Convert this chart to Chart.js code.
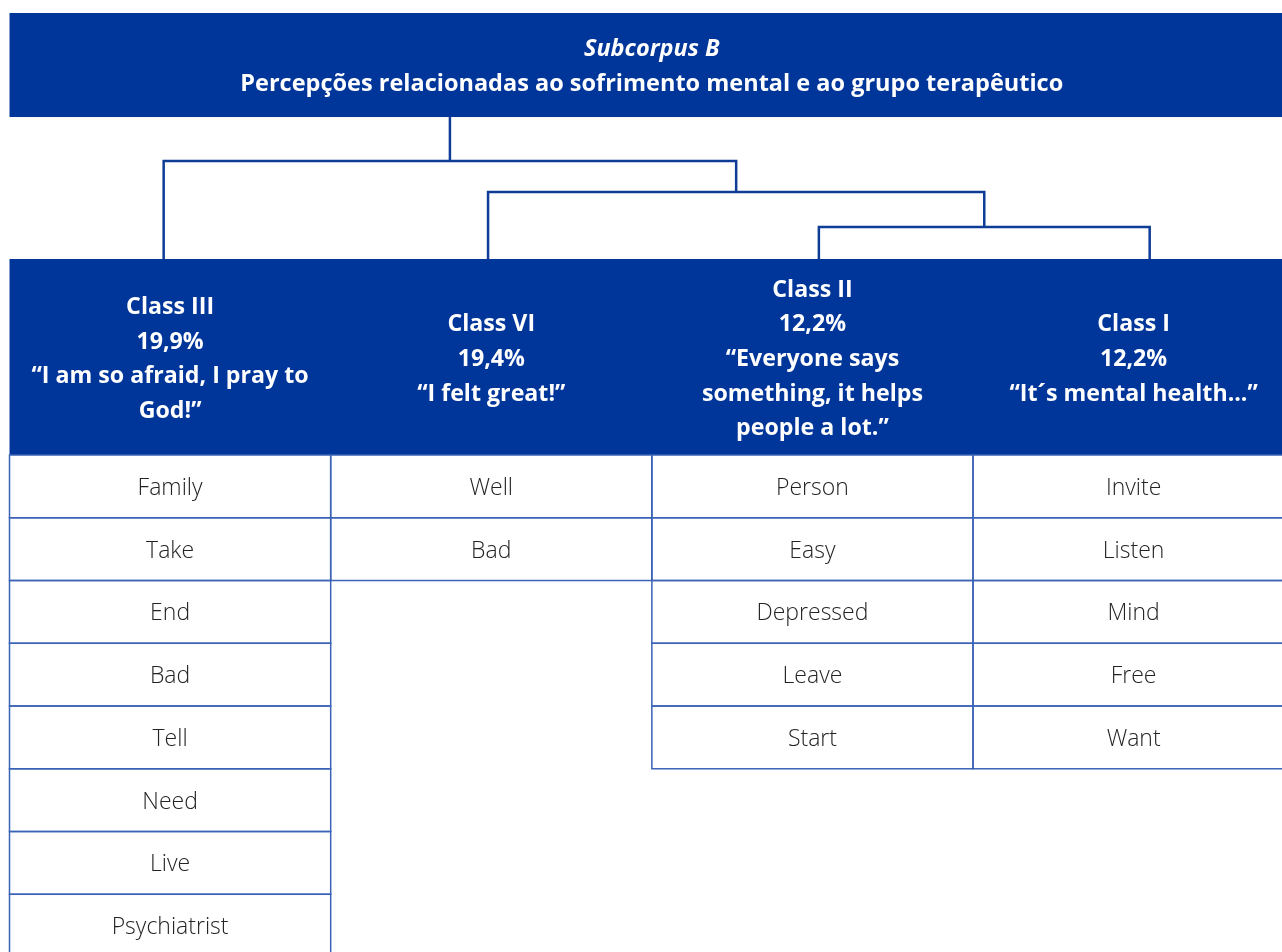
<!DOCTYPE html>
<html>
<head>
<meta charset="utf-8">
<script src="https://cdn.jsdelivr.net/npm/chart.js@4.4.1/dist/chart.umd.min.js"></script>
<style>
  html, body { margin: 0; padding: 0; background: #ffffff; }
  #wrap { position: relative; width: 1282px; height: 952px; }
</style>
</head>
<body>
<div id="wrap"><canvas id="chart"></canvas></div>
<script>
// ---- data ----
const titleLines = ['Subcorpus B', 'Percepções relacionadas ao sofrimento mental e ao grupo terapêutico'];
const classNames = ['Class III', 'Class VI', 'Class II', 'Class I'];
const classShares = ['19,9%', '19,4%', '12,2%', '12,2%'];
const classQuotes = [
    ['“I am so afraid, I pray to', 'God!”'],
    ['“I felt great!”'],
    ['“Everyone says', 'something, it helps', 'people a lot.”'],
    ['“It´s mental health...”']
];
const classWords = [
    ['Family', 'Take', 'End', 'Bad', 'Tell', 'Need', 'Live', 'Psychiatrist'],
    ['Well', 'Bad'],
    ['Person', 'Easy', 'Depressed', 'Leave', 'Start'],
    ['Invite', 'Listen', 'Mind', 'Free', 'Want']
];
// dendrogram: merges of clusters (leaf index or earlier merge 'm0', 'm1'), with height level
const merges = [
    { a: 2, b: 3, level: 1 },
    { a: 1, b: 'm0', level: 2 },
    { a: 0, b: 'm1', level: 3 }
];

// ---- layout (in scale units: x = column, y = table rows, down is positive) ----
const BLUE = '#00359a';
const LINE_BLUE = '#0f3c97';
const CELL_BORDER = '#3b63b6';
const leafX = [0.48, 1.49, 2.52, 3.55];
const headerTop = -3.124;
const bannerTop = -7.044, bannerBottom = -5.386;
const levelY = [headerTop, -3.633, -4.191, -4.685];
const X_MAX = 3.962, Y_MIN = -7.251, Y_MAX = 7.92;

// build dendrogram line datasets from merges
const nodeX = {};
const nodeY = {};
classNames.forEach((c, i) => { nodeX[i] = leafX[i]; nodeY[i] = headerTop; });
const datasets = [];
merges.forEach((m, i) => {
    const y = levelY[m.level];
    datasets.push({
        data: [
            { x: nodeX[m.a], y: nodeY[m.a] },
            { x: nodeX[m.a], y: y },
            { x: nodeX[m.b], y: y },
            { x: nodeX[m.b], y: nodeY[m.b] }
        ]
    });
    nodeX['m' + i] = (nodeX[m.a] + nodeX[m.b]) / 2;
    nodeY['m' + i] = y;
});
const root = 'm' + (merges.length - 1);
datasets.push({ data: [{ x: nodeX[root], y: nodeY[root] }, { x: nodeX[root], y: bannerBottom }] });
datasets.forEach(ds => {
    ds.showLine = true;
    ds.borderColor = LINE_BLUE;
    ds.borderWidth = 2.5;
    ds.pointRadius = 0;
    ds.fill = false;
});

const boxesPlugin = {
    id: 'boxes',
    beforeDatasetsDraw(chart) {
        const { ctx, scales: { x, y } } = chart;
        const px = v => x.getPixelForValue(v);
        const py = v => y.getPixelForValue(v);
        ctx.save();
        ctx.textAlign = 'center';
        ctx.textBaseline = 'middle';

        // title banner
        ctx.fillStyle = BLUE;
        ctx.fillRect(px(0), py(bannerTop), px(X_MAX) - px(0), py(bannerBottom) - py(bannerTop));
        ctx.fillStyle = '#ffffff';
        const bannerMid = (py(bannerTop) + py(bannerBottom)) / 2 + 1.5;
        const titleX = (px(0) + px(X_MAX)) / 2 + 6;
        ctx.font = 'italic 700 23.5px "Open Sans", sans-serif';
        ctx.fillText(titleLines[0], titleX, bannerMid - 17.5);
        ctx.font = '700 23.5px "Open Sans", sans-serif';
        ctx.fillText(titleLines[1], titleX, bannerMid + 17.5);

        // class header band
        ctx.fillStyle = BLUE;
        ctx.fillRect(px(0), py(headerTop), px(X_MAX) - px(0), py(0) - py(headerTop));
        ctx.fillStyle = '#ffffff';
        ctx.font = '700 23.2px "Open Sans", sans-serif';
        const lh = 34.6;
        const headMid = (py(headerTop) + py(0)) / 2 + 2.5;
        classNames.forEach((name, i) => {
            const lines = [name, classShares[i]].concat(classQuotes[i]);
            const start = headMid - (lines.length - 1) * lh / 2;
            lines.forEach((t, k) => ctx.fillText(t, px(i + 0.5), start + k * lh));
        });

        // word cells
        ctx.strokeStyle = CELL_BORDER;
        ctx.lineWidth = 1.5;
        ctx.font = '300 23px "Open Sans", sans-serif';
        classWords.forEach((words, i) => {
            words.forEach((w, r) => {
                const x0 = px(i), x1 = px(i + 1);
                const y0 = py(r), y1 = py(r + 1);
                ctx.strokeRect(x0, y0, x1 - x0, y1 - y0);
                ctx.fillStyle = '#232323';
                ctx.fillText(w, (x0 + x1) / 2, (y0 + y1) / 2 + 2);
            });
        });
        ctx.restore();
    }
};

new Chart(document.getElementById('chart'), {
    type: 'scatter',
    data: { datasets: datasets },
    options: {
        responsive: true,
        maintainAspectRatio: false,
        animation: false,
        layout: { padding: 0 },
        scales: {
            x: { type: 'linear', display: false, min: -0.0296, max: X_MAX },
            y: { type: 'linear', display: false, reverse: true, min: Y_MIN, max: Y_MAX }
        },
        plugins: {
            legend: { display: false },
            tooltip: { enabled: false }
        }
    },
    plugins: [boxesPlugin]
});
</script>
</body>
</html>
